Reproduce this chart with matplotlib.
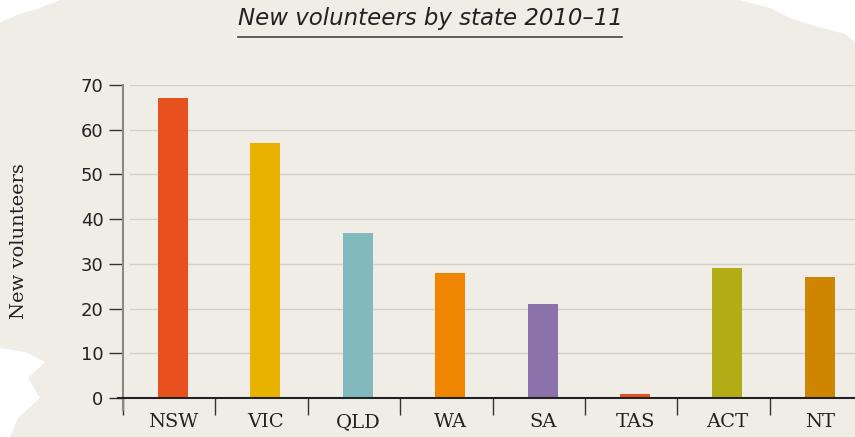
import matplotlib.pyplot as plt
from matplotlib.patches import Polygon

states = ['NSW', 'VIC', 'QLD', 'WA', 'SA', 'TAS', 'ACT', 'NT']
volunteers = [67, 57, 37, 28, 21, 1, 29, 27]
colors = ['#e8501e', '#e9b200', '#82b9bc', '#ef8500', '#8b72ab',
          '#e8501e', '#b2ac17', '#cf8500']

bg = '#f0ede7'
W, H = 855, 437
fig = plt.figure(figsize=(W / 100, H / 100), dpi=100, facecolor=bg)

# torn paper edges
for pts in [
    [(0, 0), (60, 0), (40, 8), (20, 14), (0, 22)],
    [(740, 0), (855, 0), (855, 42), (845, 34), (815, 26), (790, 18), (770, 8)],
    [(0, 348), (25, 352), (45, 362), (28, 378), (40, 398), (18, 418), (10, 437), (0, 437)],
]:
    fig.patches.append(Polygon([(x / W, 1 - y / H) for x, y in pts], closed=True,
                               transform=fig.transFigure, facecolor='white',
                               edgecolor='none', zorder=0))

step = 92.4
left, right = 123, 123 + 8 * step
top, bottom = 85, 398
ax = fig.add_axes([left / W, 1 - bottom / H, (right - left) / W, (bottom - top) / H])
ax.set_facecolor('none')

off = 50 / step
x = range(len(states))
ax.bar(x, volunteers, width=30 / step, color=colors, zorder=3)
ax.set_xlim(-off, 8 - off)
ax.set_ylim(0, 70)

for v in range(10, 71, 10):
    ax.axhline(v, xmin=0.01, color='#d3d0ca', lw=1, zorder=1)

ax.set_yticks(range(0, 71, 10))
ax.tick_params(axis='y', length=10, width=1, color='#333333', pad=4,
               labelsize=13, labelcolor='#222222')
for lab in ax.get_yticklabels():
    lab.set_family('DejaVu Sans')

ax.set_xticks(list(x))
ax.set_xticklabels(states, family='DejaVu Serif', fontsize=14, color='#222222')
ax.tick_params(axis='x', length=0, pad=11)
ax.set_xticks([i - off for i in range(8)], minor=True)
ax.tick_params(axis='x', which='minor', length=12, width=1, color='#333333')

for s in ['top', 'right']:
    ax.spines[s].set_visible(False)
ax.spines['left'].set_color('#888888')
ax.spines['left'].set_linewidth(1.5)
ax.spines['left'].set_bounds(-2.7, 70)
ax.spines['bottom'].set_color('#222222')
ax.spines['bottom'].set_linewidth(1.5)
ax.spines['bottom'].set_bounds(-0.6, 8)
ax.spines['bottom'].set_zorder(4)

ax.set_ylabel('New volunteers', family='DejaVu Serif', fontsize=14,
              color='#222222', labelpad=38)

fig.text(430 / W, 1 - 19 / H, 'New volunteers by state 2010\u201311', ha='center',
         va='center', fontsize=16.5, style='italic', family='DejaVu Sans',
         color='#222222')
fig.add_artist(plt.Line2D([238 / W, 622 / W], [1 - 37 / H, 1 - 37 / H],
                          color='#444444', lw=1.2, transform=fig.transFigure))

fig.savefig('out.png', dpi=100, facecolor=bg)
